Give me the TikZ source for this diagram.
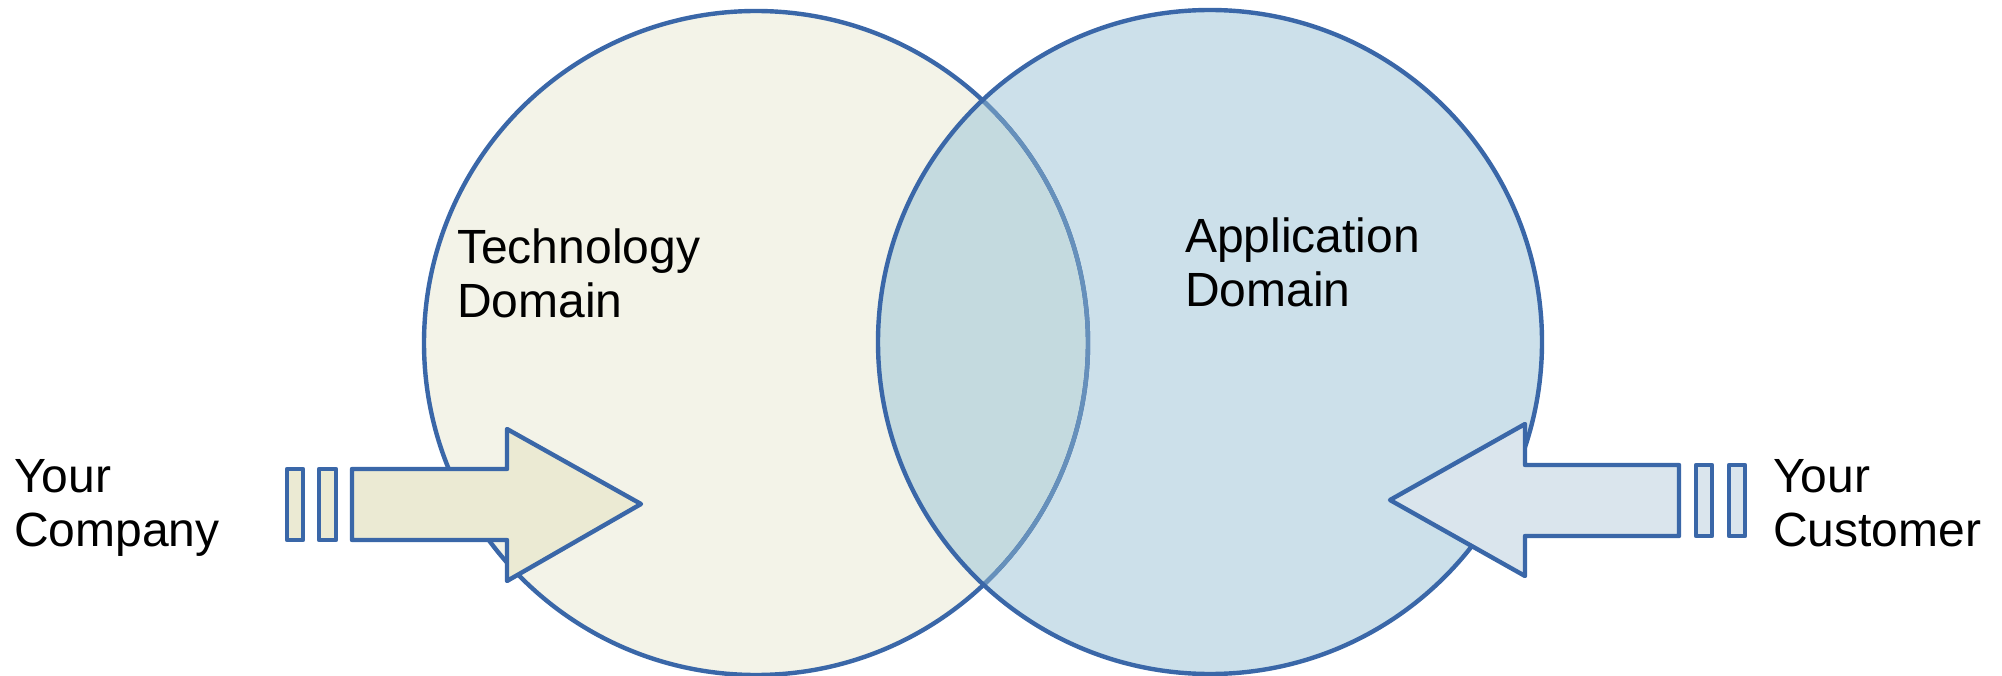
\documentclass[tikz,border=0pt]{standalone}
\usepackage{fontspec}
\setmainfont{Liberation Sans}
\begin{document}
\definecolor{edge}{HTML}{3A67A8}
\definecolor{edgesoft}{HTML}{6690BB}
\definecolor{techfill}{HTML}{F3F3E8}
\definecolor{appfill}{HTML}{CCE0EA}
\definecolor{lensfill}{HTML}{C4DADF}
\definecolor{pushfill}{HTML}{EBEAD3}
\definecolor{pullfill}{HTML}{DAE5ED}
\begin{tikzpicture}[x=1pt,y=-1pt,
  zonecircle/.style={circle,minimum size=664pt,inner sep=0pt},
  caption/.style={anchor=base west,align=left,font=\fontsize{48}{54}\selectfont,inner sep=0pt},
  outline/.style={draw=edge,line width=4.4pt,line join=round}]
\useasboundingbox (0,0) rectangle (2002,676);

% the two domains
\node[zonecircle,fill=techfill] (tech) at (756,343) {};
\node[zonecircle,fill=appfill] (app) at (1210,342) {};
\begin{scope}
  \clip (756,343) circle (332);
  \fill[lensfill] (1210,342) circle (332);
\end{scope}
\draw[draw=edge,line width=4.4pt] (756,343) circle (332);
\begin{scope}
  \clip (1210,342) circle (332);
  \draw[draw=edgesoft,line width=4.4pt] (756,343) circle (332);
\end{scope}
\draw[draw=edge,line width=4.4pt] (1210,342) circle (332);

% text (anchored on the baseline of the last line)
\node[caption] (techlbl) at (457,317) {Technology\\Domain};
\node[caption] (applbl) at (1185,306) {Application\\Domain};
\node[caption] (company) at (14,546) {Your\\Company};
\node[caption] (customer) at (1773,546) {Your\\Customer};

% arrow pushing in from the company
\draw[outline,fill=pushfill] (287,469) rectangle (303,540);
\draw[outline,fill=pushfill] (319,469) rectangle (336,540);
\draw[outline,fill=pushfill] (352,469) -- (507,469) -- (507,429) -- (641,504)
  -- (507,581) -- (507,540) -- (352,540) -- cycle;

% arrow pushing in from the customer
\draw[outline,fill=pullfill] (1696,465) rectangle (1712,536);
\draw[outline,fill=pullfill] (1729,465) rectangle (1745,536);
\draw[outline,fill=pullfill] (1679,465) -- (1525,465) -- (1525,424) -- (1390,500)
  -- (1525,576) -- (1525,536) -- (1679,536) -- cycle;
\end{tikzpicture}
\end{document}
